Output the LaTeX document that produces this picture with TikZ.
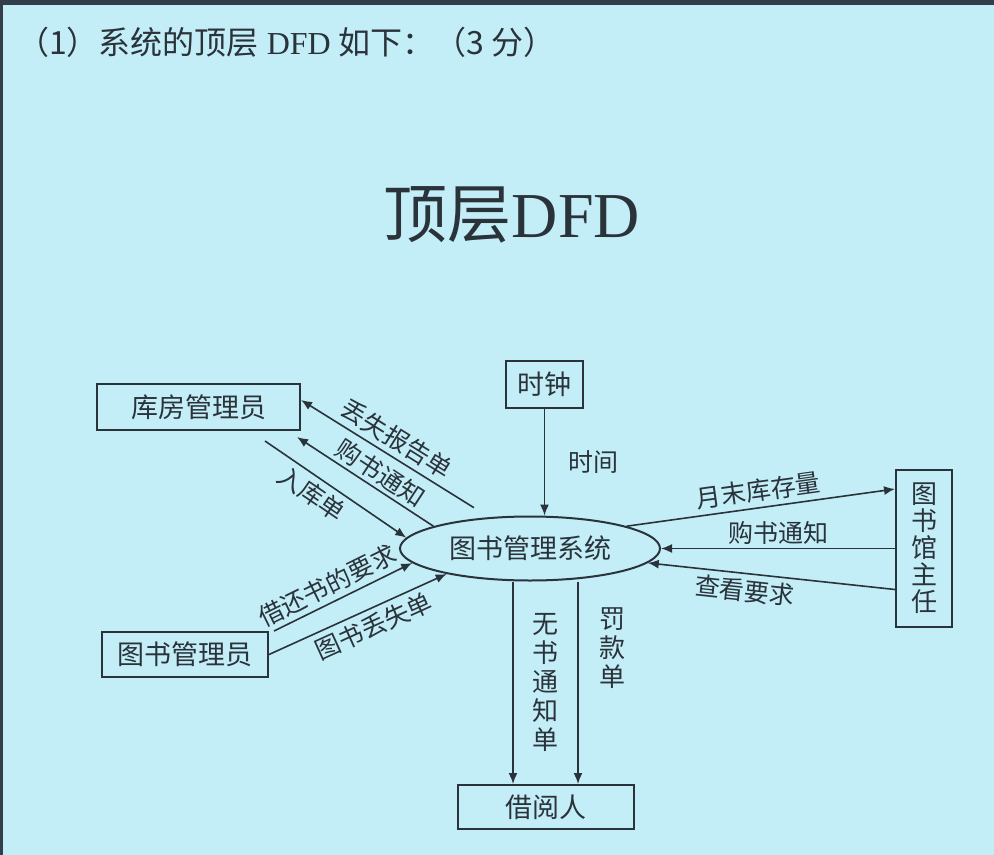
\documentclass[tikz,border=0pt]{standalone}
\usepackage{fontspec}
\setmainfont{Liberation Serif}
\newfontfamily\cjk{Noto Sans CJK SC}
\usepackage{tikz}
\usetikzlibrary{arrows.meta,shapes.geometric}
\definecolor{screen}{RGB}{196,238,247}
\definecolor{bezel}{RGB}{50,62,74}
\definecolor{ink}{RGB}{42,50,58}
\tikzset{
  entity/.style={draw=ink, line width=1pt, inner sep=0pt, align=center,
    font=\cjk\fontsize{13.5}{15}\selectfont, text=ink},
  process/.style={ellipse, draw=ink, line width=1pt, inner sep=0pt,
    minimum width=130pt, minimum height=32pt,
    font=\cjk\fontsize{13.5}{15}\selectfont, text=ink},
  lbl/.style={font=\cjk\fontsize{12.5}{14}\selectfont, text=ink, inner sep=1.5pt},
  vlbl/.style={lbl, align=center, font=\cjk\fontsize{13}{14.5}\selectfont},
  flow/.style={-{Latex[length=5.5pt,width=4.5pt]}, line width=0.8pt, draw=ink},
  backflow/.style={{Latex[length=5.5pt,width=4.5pt]}-, line width=0.8pt, draw=ink}
}

\begin{document}
\begin{tikzpicture}[x=0.5pt, y=-0.5pt]
% screen
\fill[screen] (0,0) rectangle (994,855);
\fill[bezel] (0,0) rectangle (994,5);
\fill[bezel] (0,0) rectangle (3,855);

\node[anchor=west, text=ink, font=\fontsize{16}{18}\selectfont] (q1) at (10,42)
  {{\cjk （1）系统的顶层} DFD {\cjk 如下：（3 分）}};
\node[text=ink, font=\cjk\fontsize{32}{36}\selectfont] (title) at (512,215) {顶层{\rmfamily DFD}};

% external entities and process
\node[entity, minimum width=101.5pt, minimum height=23pt] (store) at (198.5,407) {库房管理员};
\node[entity, minimum width=38.5pt, minimum height=23.5pt] (clock) at (544.5,384.5) {时钟};
\node[process] (sys) at (530,548.5) {图书管理系统};
\node[entity, minimum width=28pt, minimum height=78.5pt, font=\cjk\fontsize{13}{13.5}\selectfont] (boss) at (924,548.5) {图\\书\\馆\\主\\任};
\node[entity, minimum width=83pt, minimum height=22.5pt] (clerk) at (185,654.5) {图书管理员};
\node[entity, minimum width=88pt, minimum height=22pt] (reader) at (546,807) {借阅人};

% data flows
\draw[flow] (clock) -- node[lbl, right=10pt]{时间} (clock |- sys.north);
\draw[backflow] ([yshift=3.5pt]store.east) -- node[lbl, sloped, above=1pt]{丢失报告单} ([yshift=5.5pt]sys.152);
\draw[backflow] ([shift={(-2pt,-3pt)}]store.south east) -- node[lbl, sloped, above, pos=0.55]{购书通知} (sys.167);
\draw[flow] ([shift={(-18pt,-5pt)}]store.south east) -- node[lbl, sloped, below=1pt, pos=0.4]{入库单} (sys.175);
\draw[flow] ([xshift=2.5pt]clerk.north east) -- node[lbl, sloped, above=1pt, pos=0.44]{借还书的要求} (sys.187);
\draw[flow] (clerk.east) -- node[lbl, sloped, below=1pt, pos=0.55]{图书丢失单} (sys.197);
\draw[flow] (sys.13) -- node[lbl, sloped, above=1pt]{月末库存量} ([yshift=-10pt]boss.north west);
\draw[backflow] (sys.east) -- node[lbl, above]{购书通知} (boss.west |- sys.east);
\draw[backflow] (sys.-7) -- node[lbl, sloped, below=1pt, pos=0.4]{查看要求} ([yshift=-20.5pt]boss.west);
\draw[flow] ([xshift=-8.5pt]sys.south) -- node[vlbl, right=8pt]{无\\书\\通\\知\\单} ([xshift=-8.5pt]sys.south |- reader.north);
\draw[flow] ([xshift=24pt]sys.south) -- node[vlbl, right=9pt, pos=0.33]{罚\\款\\单} ([xshift=24pt]sys.south |- reader.north);
\end{tikzpicture}
\end{document}
